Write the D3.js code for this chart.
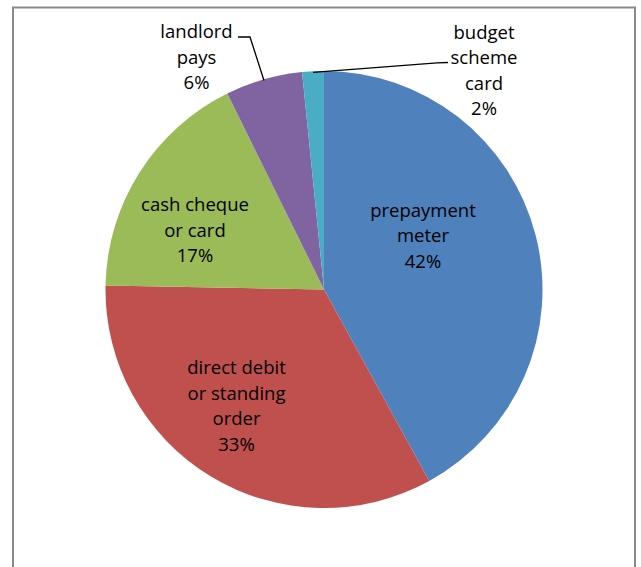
<!DOCTYPE html>
<html>
<head>
<meta charset="utf-8">
<script src="https://cdn.jsdelivr.net/npm/d3@7"></script>
<style>
  html, body { margin: 0; padding: 0; background: #fff; }
  svg { display: block; }
</style>
</head>
<body>
<svg id="chart" width="641" height="567"></svg>
<script>
// ---- data ----
const categories = ["prepayment meter", "direct debit or standing order", "cash cheque or card", "landlord pays", "budget scheme card"];
const values = [42.0, 33.3, 17.4, 5.7, 1.6];
const labelLines = [
  ["prepayment", "meter"],
  ["direct debit", "or standing", "order"],
  ["cash cheque", "or card"],
  ["landlord", "pays"],
  ["budget", "scheme", "card"]
];
const colors = ["#4F81BD", "#C0504D", "#9BBB59", "#8064A2", "#4BACC6"];

// ---- layout (positions only) ----
const W = 641, H = 567;
const cx = 324, cy = 289.5, R = 218.5;
const lineH = 25.5;
const labelLayout = [
  { x: 423, y: 216.5 },
  { x: 236.5, y: 374 },
  { x: 195, y: 211 },
  { x: 196.5, y: 38 },
  { x: 484, y: 38.5 }
];
// leader elbows (label side) for outside labels
const leaders = {
  3: [[238, 37], [250, 37]],
  4: [[448, 62.5], [437, 62.8]]
};

const svg = d3.select("#chart");
svg.append("rect").attr("width", W).attr("height", H).attr("fill", "#fff");

// frame
svg.append("rect")
  .attr("x", 13).attr("y", 7.5)
  .attr("width", 622).attr("height", 600)
  .attr("fill", "none").attr("stroke", "#898989").attr("stroke-width", 2);

const total = d3.sum(values);
const pie = d3.pie().sort(null).value(d => d)(values);
const arc = d3.arc().innerRadius(0).outerRadius(R);

const g = svg.append("g").attr("transform", `translate(${cx},${cy})`);
g.selectAll("path.slice")
  .data(pie)
  .join("path")
  .attr("class", "slice")
  .attr("d", arc)
  .attr("fill", (d, i) => colors[i]);

// leader lines
const outerPt = d3.arc().innerRadius(R - 1).outerRadius(R - 1);
Object.keys(leaders).forEach(k => {
  const i = +k;
  const c = outerPt.centroid(pie[i]);
  const pts = leaders[i].map(p => [p[0], p[1]]).concat([[cx + c[0], cy + c[1]]]);
  svg.append("path")
    .attr("d", d3.line()(pts))
    .attr("fill", "none")
    .attr("stroke", "#000")
    .attr("stroke-width", 1.3);
});

// labels
const fontFamily = "'Open Sans', 'Noto Sans', sans-serif";
pie.forEach((d, i) => {
  const lines = labelLines[i].concat([Math.round(values[i] / total * 100) + "%"]);
  const t = svg.append("text")
    .attr("text-anchor", "middle")
    .attr("font-family", fontFamily)
    .attr("font-size", 18.5)
    .attr("fill", "#000");
  lines.forEach((ln, j) => {
    t.append("tspan")
      .attr("x", labelLayout[i].x)
      .attr("y", labelLayout[i].y + j * lineH)
      .text(ln);
  });
});
</script>
</body>
</html>
